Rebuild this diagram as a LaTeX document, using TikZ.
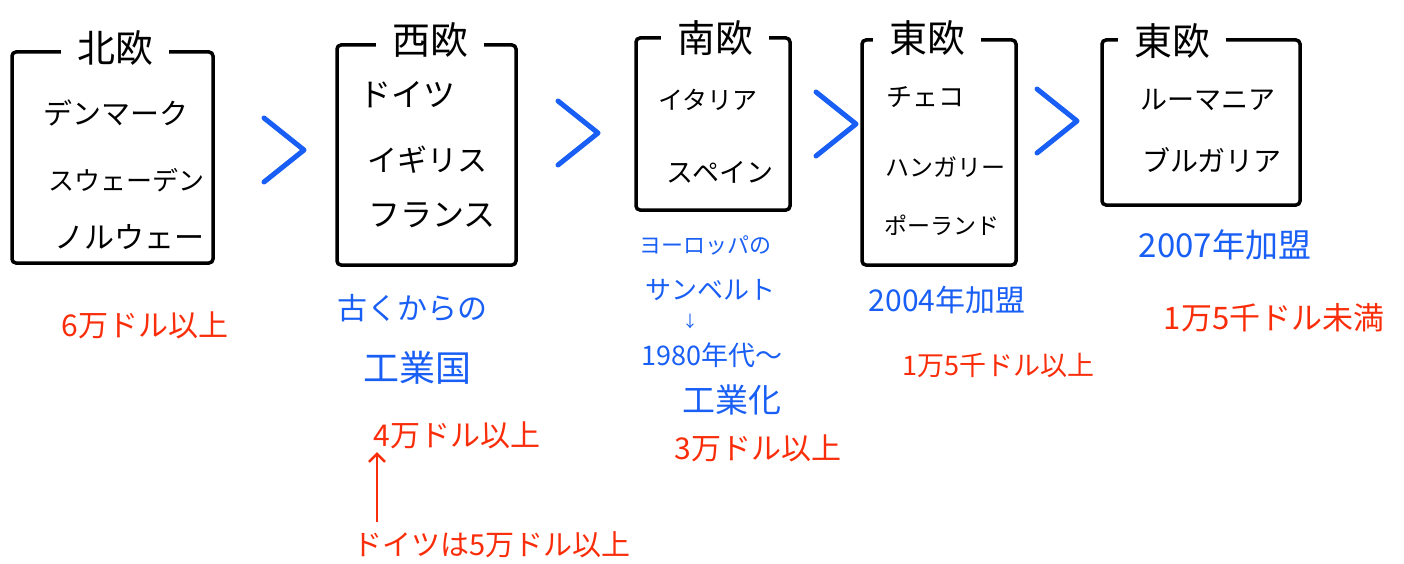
\documentclass[tikz,border=0pt]{standalone}
\usepackage{fontspec}
\setmainfont{Noto Sans CJK JP}
\usetikzlibrary{arrows.meta}
\newcommand{\fsz}[1]{\fontsize{#1}{#1}\selectfont}
\tikzset{
  region/.style={draw, line width=3.5pt, rounded corners=4pt},
  title/.style={fill=white, inner xsep=16pt, inner ysep=3pt, font=\fsz{38}},
  item/.style={font=\fsz{#1}},
  item/.default=28,
  note/.style={text=noteblue, font=\fsz{#1}},
  note/.default=26,
  gdp/.style={text=gdpred, font=\fsz{#1}},
  gdp/.default=30,
  chevron/.pic={\draw[noteblue, line width=5pt, line cap=round, line join=round]
    (-20,-32) -- (20,0) -- (-20,32);}
}

\begin{document}
\begin{tikzpicture}[x=1pt, y=-1pt]
    % Define colors
    \definecolor{noteblue}{RGB}{25,95,245}
    \definecolor{gdpred}{RGB}{250,45,10}
    \useasboundingbox (0,0) rectangle (1404,564);

    % Regions
    \node[region, minimum width=201pt, minimum height=211pt] (r1) at (112.5,157.5) {};
    \node[region, minimum width=179pt, minimum height=220pt] (r2) at (426.5,155) {};
    \node[region, minimum width=154pt, minimum height=172pt] (r3) at (713,124) {};
    \node[region, minimum width=154pt, minimum height=225pt] (r4) at (939,152.5) {};
    \node[region, minimum width=198pt, minimum height=165pt] (r5) at (1201,122.5) {};

    % Region titles
    \node[title] (t1) at (115,48) {北欧};
    \node[title] (t2) at (430,40) {西欧};
    \node[title] (t3) at (715,38) {南欧};
    \node[title] (t4) at (927,38) {東欧};
    \node[title] (t5) at (1172,41) {東欧};

    % Countries
    \node[item=29] (dk) at (116,113) {デンマーク};
    \node[item=26] (se) at (126,180) {スウェーデン};
    \node[item=30] (no) at (129,237) {ノルウェー};
    \node[item=32] (de) at (407,95) {ドイツ};
    \node[item=30] (uk) at (427,160) {イギリス};
    \node[item=32] (fr) at (432,215) {フランス};
    \node[item=25] (it) at (708,100) {イタリア};
    \node[item=27] (es) at (720,172) {スペイン};
    \node[item=26] (cz) at (925,97) {チェコ};
    \node[item=24] (hu) at (945,167) {ハンガリー};
    \node[item=23] (pl) at (942,225) {ポーランド};
    \node[item=27] (ro) at (1208,100) {ルーマニア};
    \node[item=28] (bg) at (1212,160) {ブルガリア};

    % Chevrons between regions
    \pic at (284,150) {chevron};
    \pic at (578,133) {chevron};
    \pic at (836,124) {chevron};
    \pic at (1057,121) {chevron};

    % Notes
    \node[gdp] (g1) at (145,325) {6万ドル以上};
    \node[note=30] (n2a) at (412,308) {古くからの};
    \node[note=36] (n2b) at (417,368) {工業国};
    \node[gdp] (g2) at (457,435) {4万ドル以上};
    \node[gdp=29] (g2b) at (492,545) {ドイツは5万ドル以上};
    \coordinate (up) at (377,522);
    \draw[gdpred, line width=2.5pt, -{Straight Barb[length=8pt]}] (up) -- (up |- g2.south);
    \node[note=22] (n3a) at (705,245) {ヨーロッパの};
    \node[note=26] (n3b) at (710,290) {サンベルト};
    \node[note=16] (n3c) at (690,321) {↓};
    \node[note=27] (n3d) at (712,355) {1980年代〜};
    \node[note=33] (n3e) at (732,400) {工業化};
    \node[gdp] (g3) at (758,448) {3万ドル以上};
    \node[note=30] (n4) at (947,300) {2004年加盟};
    \node[gdp=27] (g4) at (998,365) {1万5千ドル以上};
    \node[note=33] (n5) at (1225,245) {2007年加盟};
    \node[gdp=31] (g5) at (1274,318) {1万5千ドル未満};

\end{tikzpicture}
\end{document}
